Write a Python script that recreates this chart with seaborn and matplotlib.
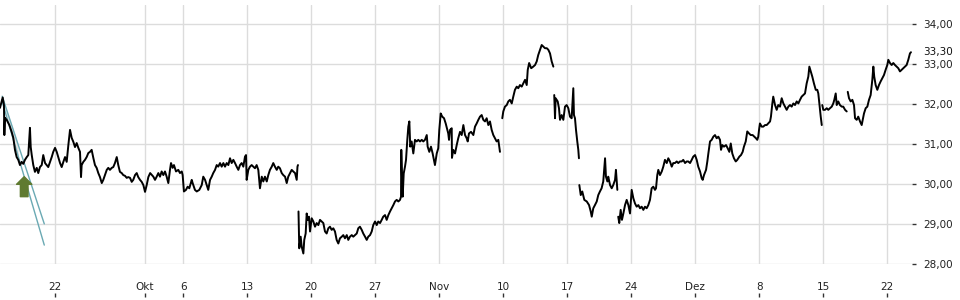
import numpy as np
import pandas as pd
import matplotlib
matplotlib.use("Agg")
import matplotlib.pyplot as plt
import seaborn as sns

# ---- data: x = trading-day index (0 = Mon 22 Sep), y = price (EUR) ----
seg1_day = [-4.32, -4.11, -4.01, -3.98, -3.93, -3.80, -3.59, -3.41, -3.28, -3.15, -3.02, -2.89, -2.76,
            -2.63, -2.50, -2.37, -2.23, -2.11, -1.98, -1.92, -1.84, -1.72, -1.59, -1.45, -1.33, -1.20,
            -1.06, -0.94, -0.80, -0.67, -0.55, -0.41, -0.28, -0.16, -0.02, 0.11, 0.23, 0.37, 0.50, 0.63,
            0.76, 0.89, 1.02, 1.15, 1.28, 1.41, 1.54, 1.67, 1.80, 1.93, 2.01, 2.06, 2.19, 2.32, 2.45,
            2.58, 2.71, 2.84, 2.97, 3.10, 3.23, 3.36, 3.49, 3.63, 3.75, 3.88, 4.02, 4.14, 4.27, 4.41,
            4.53, 4.66, 4.80, 4.92, 5.05, 5.19, 5.31, 5.45, 5.58, 5.70, 5.84, 5.97, 6.09, 6.23, 6.36,
            6.48, 6.62, 6.75, 6.88, 7.01, 7.14, 7.27,
            7.41, 7.66, 7.79, 7.92, 8.05, 8.18, 8.31, 8.44, 8.57, 8.70, 8.83, 8.96, 9.04, 9.17, 9.27,
            9.43, 9.61, 9.74, 9.88, 9.95, 10.05, 10.21, 10.34, 10.47, 10.66, 10.73, 10.91, 11.05, 11.25,
            11.44, 11.56, 11.70, 11.83, 11.95, 12.09, 12.22, 12.34, 12.48, 12.61, 12.73, 12.87, 13.00,
            13.13, 13.26, 13.39, 13.52, 13.65, 13.78, 13.91, 14.04, 14.17, 14.30, 14.43, 14.56, 14.69,
            14.82, 14.90, 14.95, 15.08, 15.21, 15.34, 15.47, 15.60, 15.73, 15.86, 15.99, 16.13, 16.25,
            16.38, 16.52, 16.64, 16.77, 16.91, 17.03, 17.16, 17.30, 17.42, 17.55, 17.69, 17.81, 17.95,
            18.08, 18.20, 18.34, 18.47, 18.59, 18.73, 18.86, 18.92, 18.96]
seg1_price = [31.91, 32.17, 31.98, 31.23, 31.66, 31.61, 31.48, 31.31, 31.16, 30.86, 30.68, 30.61, 30.48,
              30.56, 30.51, 30.61, 30.68, 30.73, 31.41, 30.93, 30.73, 30.48, 30.31, 30.41, 30.28, 30.43,
              30.48, 30.73, 30.53, 30.48, 30.43, 30.56, 30.68, 30.81, 30.91, 30.81, 30.68, 30.53, 30.43,
              30.56, 30.68, 30.56, 30.98, 31.36, 31.16, 31.06, 30.93, 31.03, 30.91, 30.81, 30.18, 30.48,
              30.56, 30.61, 30.68, 30.78, 30.81, 30.86, 30.66, 30.48, 30.41, 30.28, 30.18, 30.03, 30.11,
              30.23, 30.36, 30.41, 30.36, 30.41, 30.43, 30.53, 30.68, 30.48, 30.31, 30.28, 30.23, 30.21,
              30.16, 30.18, 30.16, 30.06, 30.11, 30.23, 30.28, 30.18, 30.11, 30.06, 29.98, 29.81, 29.98,
              30.18,
              30.28, 30.19, 30.11, 30.19, 30.28, 30.19, 30.32, 30.23, 30.32, 30.19, 30.03, 30.36, 30.53,
              30.41, 30.48, 30.32, 30.36, 30.28, 30.32, 30.23, 29.82, 29.86, 29.94, 29.90, 30.11, 30.03,
              29.86, 29.82, 29.86, 29.98, 30.19, 30.11, 29.98, 29.86, 30.11, 30.19, 30.28, 30.36, 30.48,
              30.44, 30.53, 30.44, 30.53, 30.44, 30.53, 30.48, 30.65, 30.53, 30.61, 30.53, 30.44, 30.36,
              30.48, 30.53, 30.44, 30.69, 30.73, 30.11, 30.36, 30.44, 30.48, 30.44, 30.40, 30.48, 30.36,
              29.90, 30.19, 30.07, 30.19, 30.07, 30.23, 30.36, 30.44, 30.53, 30.44, 30.36, 30.44, 30.40,
              30.28, 30.23, 30.19, 30.03, 30.19, 30.28, 30.36, 30.32, 30.28, 30.11, 30.44, 30.48]

seg2_day = [19.00, 19.06, 19.17, 19.25, 19.38, 19.45, 19.56, 19.64, 19.72, 19.82, 19.90, 20.03, 20.16,
            20.29, 20.42, 20.55, 20.68, 20.81, 20.94, 21.07, 21.20, 21.33, 21.46, 21.59, 21.72, 21.85,
            21.98, 22.11, 22.24, 22.38, 22.50, 22.63, 22.77, 22.89, 23.02, 23.16, 23.28, 23.41, 23.55,
            23.67, 23.80, 23.94, 24.06, 24.20, 24.33, 24.45, 24.59, 24.72, 24.84, 24.98, 25.11, 25.23,
            25.37, 25.50, 25.62, 25.76, 25.89, 26.02, 26.15, 26.28, 26.41, 26.54, 26.67, 26.80, 26.93,
            27.01, 27.03, 27.09, 27.14, 27.22, 27.32, 27.40, 27.50, 27.58, 27.66, 27.73, 27.84, 27.97,
            28.10, 28.23, 28.36, 28.49, 28.63, 28.75, 28.88, 29.02, 29.09, 29.22, 29.35, 29.48, 29.61,
            29.66, 29.80, 29.92, 30.00, 30.11, 30.23, 30.37, 30.50, 30.60, 30.70, 30.76, 30.84, 30.97,
            30.99, 31.09, 31.23, 31.36, 31.48, 31.62, 31.75, 31.88, 32.01, 32.14, 32.22, 32.32, 32.48,
            32.66, 32.79, 32.92, 33.05, 33.18, 33.31, 33.44, 33.57, 33.70, 33.83, 33.96, 34.09, 34.22,
            34.35, 34.48, 34.61, 34.74]
seg2_price = [29.32, 28.40, 28.69, 28.44, 28.27, 28.61, 28.77, 29.27, 29.11, 29.19, 28.82, 29.15, 29.07,
              28.94, 29.03, 28.98, 29.11, 29.07, 29.03, 28.82, 28.77, 28.90, 28.94, 28.86, 28.90, 28.82,
              28.61, 28.52, 28.65, 28.69, 28.73, 28.65, 28.73, 28.61, 28.69, 28.73, 28.69, 28.73, 28.77,
              28.90, 28.94, 28.86, 28.77, 28.69, 28.61, 28.69, 28.73, 28.82, 28.98, 29.07, 28.98, 29.07,
              29.03, 29.11, 29.19, 29.23, 29.11, 29.23, 29.32, 29.40, 29.48, 29.57, 29.61, 29.57, 29.61,
              29.69, 30.86, 30.11, 29.69, 30.27, 30.44, 30.61, 31.11, 31.44, 31.57, 30.94, 31.07, 30.77,
              31.11, 31.07, 31.11, 31.07, 31.11, 31.07, 31.11, 31.23, 30.94, 30.81, 30.94, 30.77, 30.57,
              30.48, 30.77, 30.90, 31.36, 31.77, 31.69, 31.65, 31.52, 31.40, 31.27, 31.11, 31.36, 31.40,
              30.66, 30.86, 30.77, 30.98, 31.15, 31.31, 31.23, 31.48, 31.23, 31.15, 31.07, 31.27, 31.31,
              31.23, 31.44, 31.52, 31.61, 31.69, 31.73, 31.61, 31.57, 31.65, 31.48, 31.57, 31.36, 31.23,
              31.15, 31.07, 31.11, 30.81]

seg3_day = [34.92, 35.00, 35.13, 35.27, 35.39, 35.52, 35.66, 35.78, 35.91, 36.05, 36.17, 36.30, 36.44,
            36.56, 36.70, 36.83, 36.91, 37.02, 37.18, 37.34, 37.48, 37.61, 37.73, 37.87, 38.00, 38.13,
            38.26, 38.40, 38.52, 38.65, 38.78, 38.91]
seg3_price = [31.65, 31.82, 31.94, 31.98, 32.07, 32.11, 32.02, 32.19, 32.36, 32.44, 32.40, 32.48, 32.44,
              32.52, 32.61, 32.48, 32.86, 33.03, 32.90, 32.94, 32.98, 33.07, 33.23, 33.36, 33.48, 33.44,
              33.40, 33.40, 33.36, 33.27, 33.07, 32.94]

seg4_day = [38.98, 39.04, 39.09, 39.25, 39.35, 39.43, 39.56, 39.69, 39.82, 39.95, 40.08, 40.21, 40.34,
            40.47, 40.52, 40.60, 40.68, 40.78, 40.86, 40.91]
seg4_price = [32.23, 31.65, 32.15, 32.07, 31.90, 31.61, 31.73, 31.61, 31.94, 31.98, 31.90, 31.69, 31.65,
              32.40, 31.73, 31.65, 31.36, 31.07, 30.86, 30.65]

seg5_day = [40.94, 41.05, 41.17, 41.33, 41.52, 41.70, 41.83, 41.91, 42.03, 42.16, 42.30, 42.42, 42.55,
            42.68, 42.81, 42.95, 43.02, 43.13, 43.20, 43.34, 43.47, 43.59, 43.73, 43.80, 43.91]
seg5_price = [29.98, 29.73, 29.82, 29.61, 29.57, 29.48, 29.32, 29.19, 29.40, 29.48, 29.57, 29.73, 29.82,
              29.90, 30.07, 30.65, 30.19, 30.07, 30.19, 29.98, 29.90, 29.98, 30.11, 30.36, 29.86]

seg6_day = [43.98, 44.06, 44.17, 44.27, 44.38, 44.51, 44.64, 44.77, 44.90, 45.03, 45.16, 45.29, 45.42,
            45.55, 45.68, 45.81, 45.94, 46.07, 46.20, 46.33, 46.46, 46.59, 46.72, 46.85, 46.93, 47.03,
            47.11, 47.24, 47.38, 47.50, 47.63, 47.77, 47.89, 48.02, 48.16, 48.28, 48.41, 48.55, 48.67,
            48.80, 48.94, 49.06, 49.20, 49.33, 49.45, 49.59, 49.72, 49.84, 49.98, 50.11, 50.23, 50.37,
            50.50, 50.58, 50.68, 50.84, 50.94, 51.02, 51.15, 51.28, 51.41, 51.54, 51.67, 51.80, 51.93,
            52.01, 52.11, 52.24, 52.40, 52.53, 52.66, 52.77, 52.89, 53.02, 53.16, 53.28, 53.44, 53.57,
            53.70, 53.80, 53.94, 54.06, 54.20, 54.33, 54.48, 54.61, 54.74, 54.84, 54.92, 54.98, 55.05,
            55.19, 55.31, 55.45, 55.58, 55.70, 55.84, 55.91, 56.02, 56.09, 56.23, 56.36, 56.48, 56.62,
            56.75, 56.88, 57.01, 57.14, 57.27, 57.40, 57.53, 57.66, 57.79, 57.92, 58.05, 58.18, 58.31,
            58.44, 58.57, 58.70, 58.83, 58.91, 59.02, 59.14, 59.27, 59.41, 59.53, 59.61, 59.69, 59.80,
            59.88]
seg6_price = [29.19, 29.03, 29.36, 29.11, 29.27, 29.48, 29.61, 29.48, 29.27, 29.86, 29.65, 29.52, 29.44,
              29.48, 29.40, 29.44, 29.36, 29.44, 29.40, 29.48, 29.61, 29.90, 29.94, 29.86, 29.90, 30.23,
              30.36, 30.23, 30.32, 30.44, 30.61, 30.53, 30.65, 30.57, 30.44, 30.53, 30.53, 30.57, 30.53,
              30.57, 30.57, 30.61, 30.53, 30.57, 30.57, 30.53, 30.61, 30.69, 30.73, 30.61, 30.44, 30.32,
              30.15, 30.11, 30.23, 30.36, 30.57, 30.77, 31.07, 31.11, 31.19, 31.23, 31.15, 31.19, 31.11,
              30.86, 30.98, 30.94, 30.98, 30.90, 30.81, 31.02, 30.77, 30.65, 30.57, 30.61, 30.69, 30.73,
              30.81, 30.94, 31.07, 31.32, 31.27, 31.23, 31.23, 31.19, 31.15, 31.11, 31.19, 31.36, 31.52,
              31.44, 31.44, 31.48, 31.48, 31.52, 31.57, 31.69, 32.02, 32.19, 31.98, 31.86, 31.98, 31.94,
              32.15, 32.02, 31.94, 31.86, 31.94, 31.98, 31.94, 32.02, 31.98, 32.07, 32.02, 32.11, 32.19,
              32.23, 32.27, 32.52, 32.69, 32.94, 32.82, 32.69, 32.52, 32.36, 32.36, 32.27, 32.02, 31.69,
              31.48]

seg7_day = [59.92, 60.00, 60.13, 60.27, 60.39, 60.52, 60.66, 60.78, 60.86, 60.97, 61.05, 61.17, 61.30,
            61.44, 61.56, 61.70, 61.83]
seg7_price = [31.98, 31.86, 31.86, 31.90, 31.86, 31.90, 31.94, 32.02, 32.11, 32.27, 31.98, 32.07, 31.98,
              31.94, 31.94, 31.86, 31.82]

seg8_day = [61.91, 62.01, 62.14, 62.27, 62.40, 62.48, 62.61, 62.73, 62.87, 63.00, 63.08, 63.18, 63.31,
            63.44, 63.57, 63.70, 63.83, 63.91, 63.98, 64.09, 64.22, 64.35, 64.48, 64.61, 64.74, 64.87,
            65.00, 65.08, 65.21, 65.34, 65.47, 65.60, 65.73, 65.86, 65.99, 66.12, 66.25, 66.38, 66.51,
            66.64, 66.77, 66.85]
seg8_price = [32.31, 32.15, 32.07, 32.11, 31.98, 31.65, 31.61, 31.69, 31.57, 31.48, 31.61, 31.77, 31.90,
              31.94, 32.11, 32.23, 32.61, 32.94, 32.69, 32.48, 32.36, 32.48, 32.57, 32.65, 32.73, 32.86,
              32.98, 33.11, 33.03, 32.98, 33.03, 32.98, 32.94, 32.90, 32.82, 32.86, 32.90, 32.94, 32.98,
              33.11, 33.27, 33.30]

last_price = 33.30

# trend channel (teal) lines and buy-signal arrow
trend_day = [-4.15, -0.86]
trend_upper = [32.20, 29.01]
trend_lower_day = [-4.19, -0.86]
trend_lower = [32.11, 28.48]
arrow_day = -2.43
arrow_base, arrow_tip = 29.69, 30.19

x_ticks = [0, 7, 10, 15, 20, 25, 30, 35, 40, 45, 50, 55, 60, 65]
x_labels = ["22", "Okt", "6", "13", "20", "27", "Nov", "10", "17", "24", "Dez", "8", "15", "22"]
y_ticks = [28, 29, 30, 31, 32, 33, 34]

# ---- build long table ----
segs = [(seg1_day, seg1_price), (seg2_day, seg2_price), (seg3_day, seg3_price), (seg4_day, seg4_price),
        (seg5_day, seg5_price), (seg6_day, seg6_price), (seg7_day, seg7_price), (seg8_day, seg8_price)]
frames = []
for i, (d, p) in enumerate(segs):
    frames.append(pd.DataFrame({"day": d, "price": p, "seg": i}))
df = pd.concat(frames, ignore_index=True)

sns.set_style("white")
plt.rcParams["font.family"] = ["DejaVu Sans"]

fig = plt.figure(figsize=(9.6, 3.0), dpi=100)
W, H = 960.0, 300.0
ax = fig.add_axes([0.0, (H - 264.3) / H, 912 / W, (264.3 - 5) / H])

grid_c = "#dcdcdc"
ax.set_xlim(-4.32, 66.93)
ax.set_ylim(28.0, 34.48)
ax.set_xticks(x_ticks)
ax.set_yticks(y_ticks)
ax.grid(True, color=grid_c, lw=1.0)
ax.set_axisbelow(True)

for s in ["left", "right", "bottom", "top"]:
    ax.spines[s].set_visible(False)

# channel lines
ax.fill_between([-4.15, -2.9], [32.20, 31.00], [32.11, 30.70], color="#e4e4e4", lw=0, zorder=1)
ax.plot(trend_day, trend_upper, color="#6aa9b3", lw=1.0, zorder=2)
ax.plot(trend_lower_day, trend_lower, color="#6aa9b3", lw=1.0, zorder=2)

sns.lineplot(data=df, x="day", y="price", units="seg", estimator=None, sort=False,
             color="black", lw=1.4, ax=ax, zorder=3, legend=False)

ax.annotate("", xy=(arrow_day, arrow_tip), xytext=(arrow_day, arrow_base),
            arrowprops=dict(arrowstyle="simple,head_length=0.55,head_width=1.1,tail_width=0.55",
                            mutation_scale=10, color="#5f7a30", shrinkA=0, shrinkB=0), zorder=4)

ax.set_xlabel("")
ax.set_ylabel("")

# x tick labels (inside, below grid), marks further down via secondary axis
ax.set_xticklabels(x_labels)
ax.tick_params(axis="x", length=0, pad=12.5, labelsize=7.5, labelcolor="#222222")
sec = ax.secondary_xaxis(-0.111)
sec.set_xticks(x_ticks)
sec.set_xticklabels([])
sec.tick_params(axis="x", direction="out", length=3, width=1.0, color="#333333")
for s in sec.spines.values():
    s.set_visible(False)

ax.yaxis.tick_right()
ax.set_yticklabels([f"{v:.2f}".replace(".", ",") for v in y_ticks])
ax.tick_params(axis="y", right=True, direction="out", length=3, width=1.0, color="#333333",
               pad=5, labelsize=7.5, labelcolor="#222222")

ax.text(1.0 + 11 / 912, last_price, f"{last_price:.2f}".replace(".", ","),
        transform=ax.get_yaxis_transform(), ha="left", va="center",
        fontsize=7.5, color="#111111",
        bbox=dict(facecolor="white", edgecolor="none", pad=1.6), zorder=10, clip_on=False)

fig.savefig("out.png", dpi=100)
